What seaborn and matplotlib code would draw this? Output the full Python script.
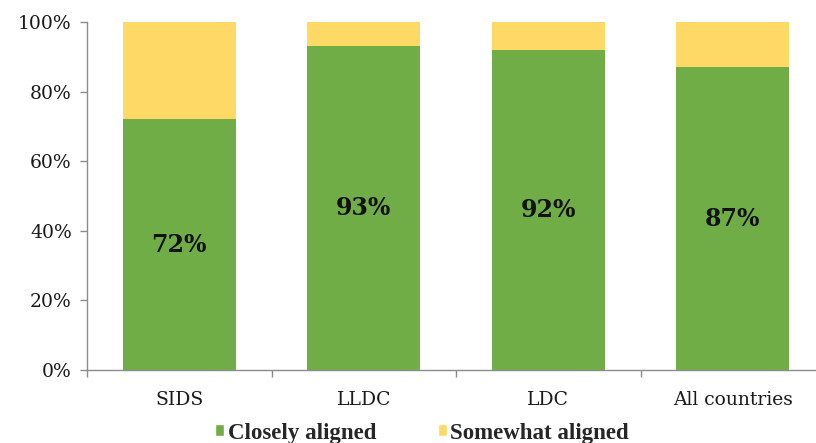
import matplotlib
matplotlib.use("Agg")
import matplotlib.pyplot as plt
from matplotlib.patches import Patch
from matplotlib.ticker import FixedLocator, PercentFormatter
import pandas as pd
import seaborn as sns

# Share of national plans by alignment level, per country group
groups = ["SIDS", "LLDC", "LDC", "All countries"]
closely_aligned = [72, 93, 92, 87]
somewhat_aligned = [28, 7, 8, 13]
y_ticks = [0, 20, 40, 60, 80, 100]

GREEN = "#70AD47"
YELLOW = "#FFD966"
AXIS_GREY = "#8C8C8C"

sns.set_theme(style="white")
plt.rcParams["font.family"] = ["DejaVu Serif"]

df = pd.DataFrame({
    "group": groups,
    "closely": closely_aligned,
    "total": [c + s for c, s in zip(closely_aligned, somewhat_aligned)],
})

fig = plt.figure(figsize=(8.16, 4.43), dpi=100)
ax = fig.add_axes([87 / 816, 73 / 443, 738 / 816, 348 / 443])

# Stacked bars: full height in yellow, closely aligned share in green on top
sns.barplot(data=df, x="group", y="total", color=YELLOW, width=0.61,
            saturation=1, ax=ax, edgecolor="none")
sns.barplot(data=df, x="group", y="closely", color=GREEN, width=0.61,
            saturation=1, ax=ax, edgecolor="none")

# Value labels centred in the green segments
for i, v in enumerate(df["closely"]):
    ax.text(i, v / 2, f"{v}%", ha="center", va="center", fontsize=17,
            fontweight="bold", color="#111111", family="DejaVu Serif")

ax.set_xlim(-0.5, len(groups) - 0.5)
ax.set_ylim(0, 100)
ax.set_xlabel("")
ax.set_ylabel("")

ax.yaxis.set_major_locator(FixedLocator(y_ticks))
ax.yaxis.set_major_formatter(PercentFormatter(decimals=0))
ax.tick_params(axis="y", which="major", left=True, length=5, width=1,
               color=AXIS_GREY, labelsize=13.5, labelcolor="#1a1a1a", pad=6)

# Category labels without ticks; ticks drawn at the category boundaries
ax.tick_params(axis="x", which="major", bottom=False, labelsize=13.5,
               labelcolor="#1a1a1a", pad=9)
ax.xaxis.set_minor_locator(FixedLocator([i - 0.5 for i in range(len(groups) + 1)]))
ax.tick_params(axis="x", which="minor", bottom=True, length=5, width=1,
               color=AXIS_GREY)

for side in ["top", "right"]:
    ax.spines[side].set_visible(False)
for side in ["left", "bottom"]:
    ax.spines[side].set_color(AXIS_GREY)
    ax.spines[side].set_linewidth(1)

handles = [Patch(facecolor=GREEN, label="Closely aligned"),
           Patch(facecolor=YELLOW, label="Somewhat aligned")]
fig.legend(handles=handles, loc="center", bbox_to_anchor=(422 / 816, 1 - 433 / 443),
           ncol=2, frameon=False, handlelength=0.38, handleheight=0.45,
           handletextpad=0.15, columnspacing=2.7,
           prop={"family": "Liberation Serif", "weight": "bold", "size": 16.5})

fig.savefig("out.png", dpi=100)
